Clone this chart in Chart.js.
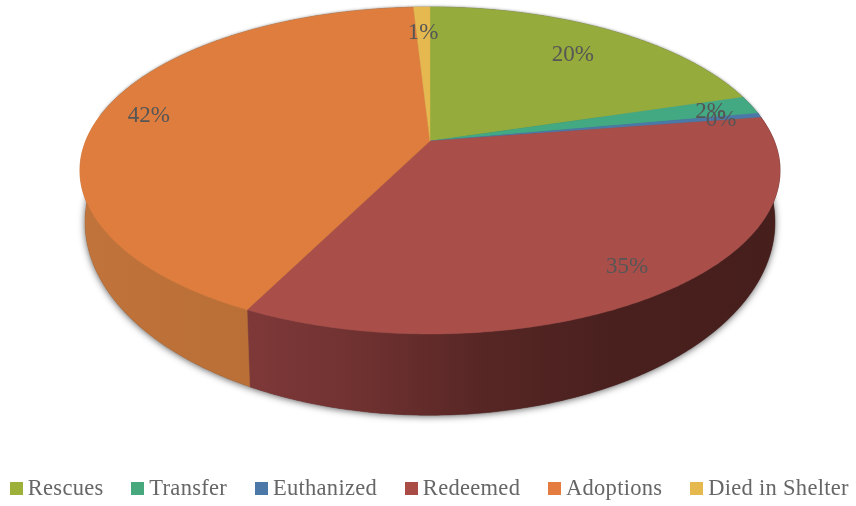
<!DOCTYPE html>
<html>
<head>
<meta charset="utf-8">
<script src="https://cdn.jsdelivr.net/npm/chart.js@4"></script>
<style>
html,body{margin:0;padding:0;background:#fff;overflow:hidden}
#wrap{position:absolute;left:0;top:0;width:856px;height:506px}
canvas{filter:blur(0.35px)}
</style>
</head>
<body>
<div id="wrap"><canvas id="c" width="856" height="506"></canvas></div>
<script>
const categories = ['Rescues','Transfer','Euthanized','Redeemed','Adoptions','Died in Shelter'];
const values = [20.3, 1.8, 0.45, 34.8, 41.75, 0.9];
const sliceColors = ['#95AB3C','#42A982','#4A78A8','#AA4E4A','#DE7D3D','#E5B94F'];
const swatchColors = ['#9DB03A','#46A87C','#4C78A8','#A94C46','#E57C3F','#E6B94E'];
const labelRadius = [0.775,0.87,0.88,0.85,0.86,0.8];

// Projection of the unit disc on to the tilted top face and the base
const proj = {cx:430, c:-0.1804, dx:344.3, a:132.74, b:141, baseDx:339.3, baseA:153, baseB:187.3};
function topFace(u,v){const w=1+proj.c*v;return [proj.cx+proj.dx*u/w,(proj.a*v+proj.b)/w];}
function baseFace(u,v){const w=1+proj.c*v;return [proj.cx+proj.baseDx*u/w,(proj.baseA*v+proj.baseB)/w];}
function arcPts(f,a0,a1){const n=Math.max(2,Math.ceil(Math.abs(a1-a0)/0.01));const p=[];
  for(let i=0;i<=n;i++){const t=a0+(a1-a0)*i/n;p.push(f(Math.cos(t),Math.sin(t)));}return p;}
function trace(ctx,pts){pts.forEach((p,i)=>ctx.lineTo(p[0],p[1]));}

function swatch(color){const s=document.createElement('canvas');s.width=13;s.height=13;
  const g=s.getContext('2d');g.fillStyle=color;g.fillRect(0,0,13,13);return s;}

const pie3d = {
  id:'pie3d',
  beforeLayout(chart){
    chart.ctx.letterSpacing='0.3px';
    const l=chart.legend;
    if(l && !l._wide){l._wide=true;const f=l._fitRows;
      l._fitRows=function(...a){const m=this.maxWidth;this.maxWidth=3000;const r=f.apply(this,a);this.maxWidth=m;return r;};}
  },
  afterLayout(chart){
    const l=chart.legend;
    const h=l.bottom-l.top;
    l.left=-18;l.right=3000;l.top=444;l.bottom=l.top+h;
  },
  beforeDatasetDraw(){return false;},
  afterDatasetsDraw(chart){
    const ctx=chart.ctx, arcs=chart.getDatasetMeta(0).data;
    ctx.save();
    ctx.letterSpacing='0px';
    // cast shadow under the base
    ctx.save();
    ctx.shadowColor='rgba(40,40,40,0.75)';ctx.shadowBlur=7;ctx.shadowOffsetX=0;ctx.shadowOffsetY=1;
    ctx.fillStyle='#555';
    ctx.beginPath();trace(ctx,arcPts(baseFace,-Math.PI,Math.PI));ctx.closePath();ctx.fill();
    ctx.restore();
    // side walls
    const red=ctx.createLinearGradient(250,0,775,0);
    red.addColorStop(0,'#7E3838');red.addColorStop(0.2,'#703231');red.addColorStop(0.45,'#562624');red.addColorStop(0.7,'#49201E');red.addColorStop(1,'#461E1C');
    const orange=ctx.createLinearGradient(85,0,250,0);
    orange.addColorStop(0,'#C0733A');orange.addColorStop(1,'#B96F36');
    const wallFill=[ '#6E7F2C','#2F7D60','#35587C',red,orange,'#AD8B3A'];
    arcs.forEach((el,i)=>{
      const A=arcPts(topFace,el.startAngle,el.endAngle), B=arcPts(baseFace,el.startAngle,el.endAngle).reverse();
      ctx.fillStyle=wallFill[i];ctx.strokeStyle=wallFill[i];ctx.lineWidth=0.5;
      ctx.beginPath();trace(ctx,A.concat(B));ctx.closePath();ctx.fill();ctx.stroke();
    });
    // top rim shadow
    ctx.save();
    ctx.shadowColor='rgba(90,90,90,0.6)';ctx.shadowBlur=3;ctx.shadowOffsetY=-0.5;
    ctx.fillStyle='#888';
    ctx.beginPath();trace(ctx,arcPts(topFace,-Math.PI*0.95,-Math.PI*0.05));ctx.closePath();ctx.fill();
    ctx.restore();
    // top face
    arcs.forEach((el,i)=>{
      ctx.fillStyle=sliceColors[i];ctx.strokeStyle=sliceColors[i];ctx.lineWidth=0.4;
      ctx.beginPath();ctx.moveTo(proj.cx,proj.b);trace(ctx,arcPts(topFace,el.startAngle,el.endAngle));ctx.closePath();ctx.fill();ctx.stroke();
    });
    // value labels
    const total=values.reduce((s,v)=>s+v,0);
    ctx.font='23px "Liberation Serif"';ctx.textAlign='center';ctx.textBaseline='middle';ctx.fillStyle='#565656';
    arcs.forEach((el,i)=>{
      const m=(el.startAngle+el.endAngle)/2, r=labelRadius[i];
      const p=topFace(r*Math.cos(m),r*Math.sin(m));
      ctx.fillText(Math.round(values[i]/total*100)+'%',p[0],p[1]+2);
    });
    ctx.restore();
  }
};

new Chart(document.getElementById('c'),{
  type:'pie',
  data:{labels:categories,datasets:[{data:values,backgroundColor:sliceColors,borderWidth:0}]},
  plugins:[pie3d],
  options:{
    responsive:false,animation:false,
    plugins:{
      tooltip:{enabled:false},
      legend:{display:true,position:'bottom',align:'start',
        labels:{color:'#666',font:{family:'"Liberation Serif"',size:22.5},padding:33.5,usePointStyle:true,pointStyleWidth:1,
          generateLabels(chart){return categories.map((t,i)=>({text:t,fillStyle:swatchColors[i],strokeStyle:swatchColors[i],lineWidth:0,pointStyle:swatch(swatchColors[i]),fontColor:'#666',index:i,hidden:false}));}
        }
      }
    }
  }
});
</script>
</body>
</html>
